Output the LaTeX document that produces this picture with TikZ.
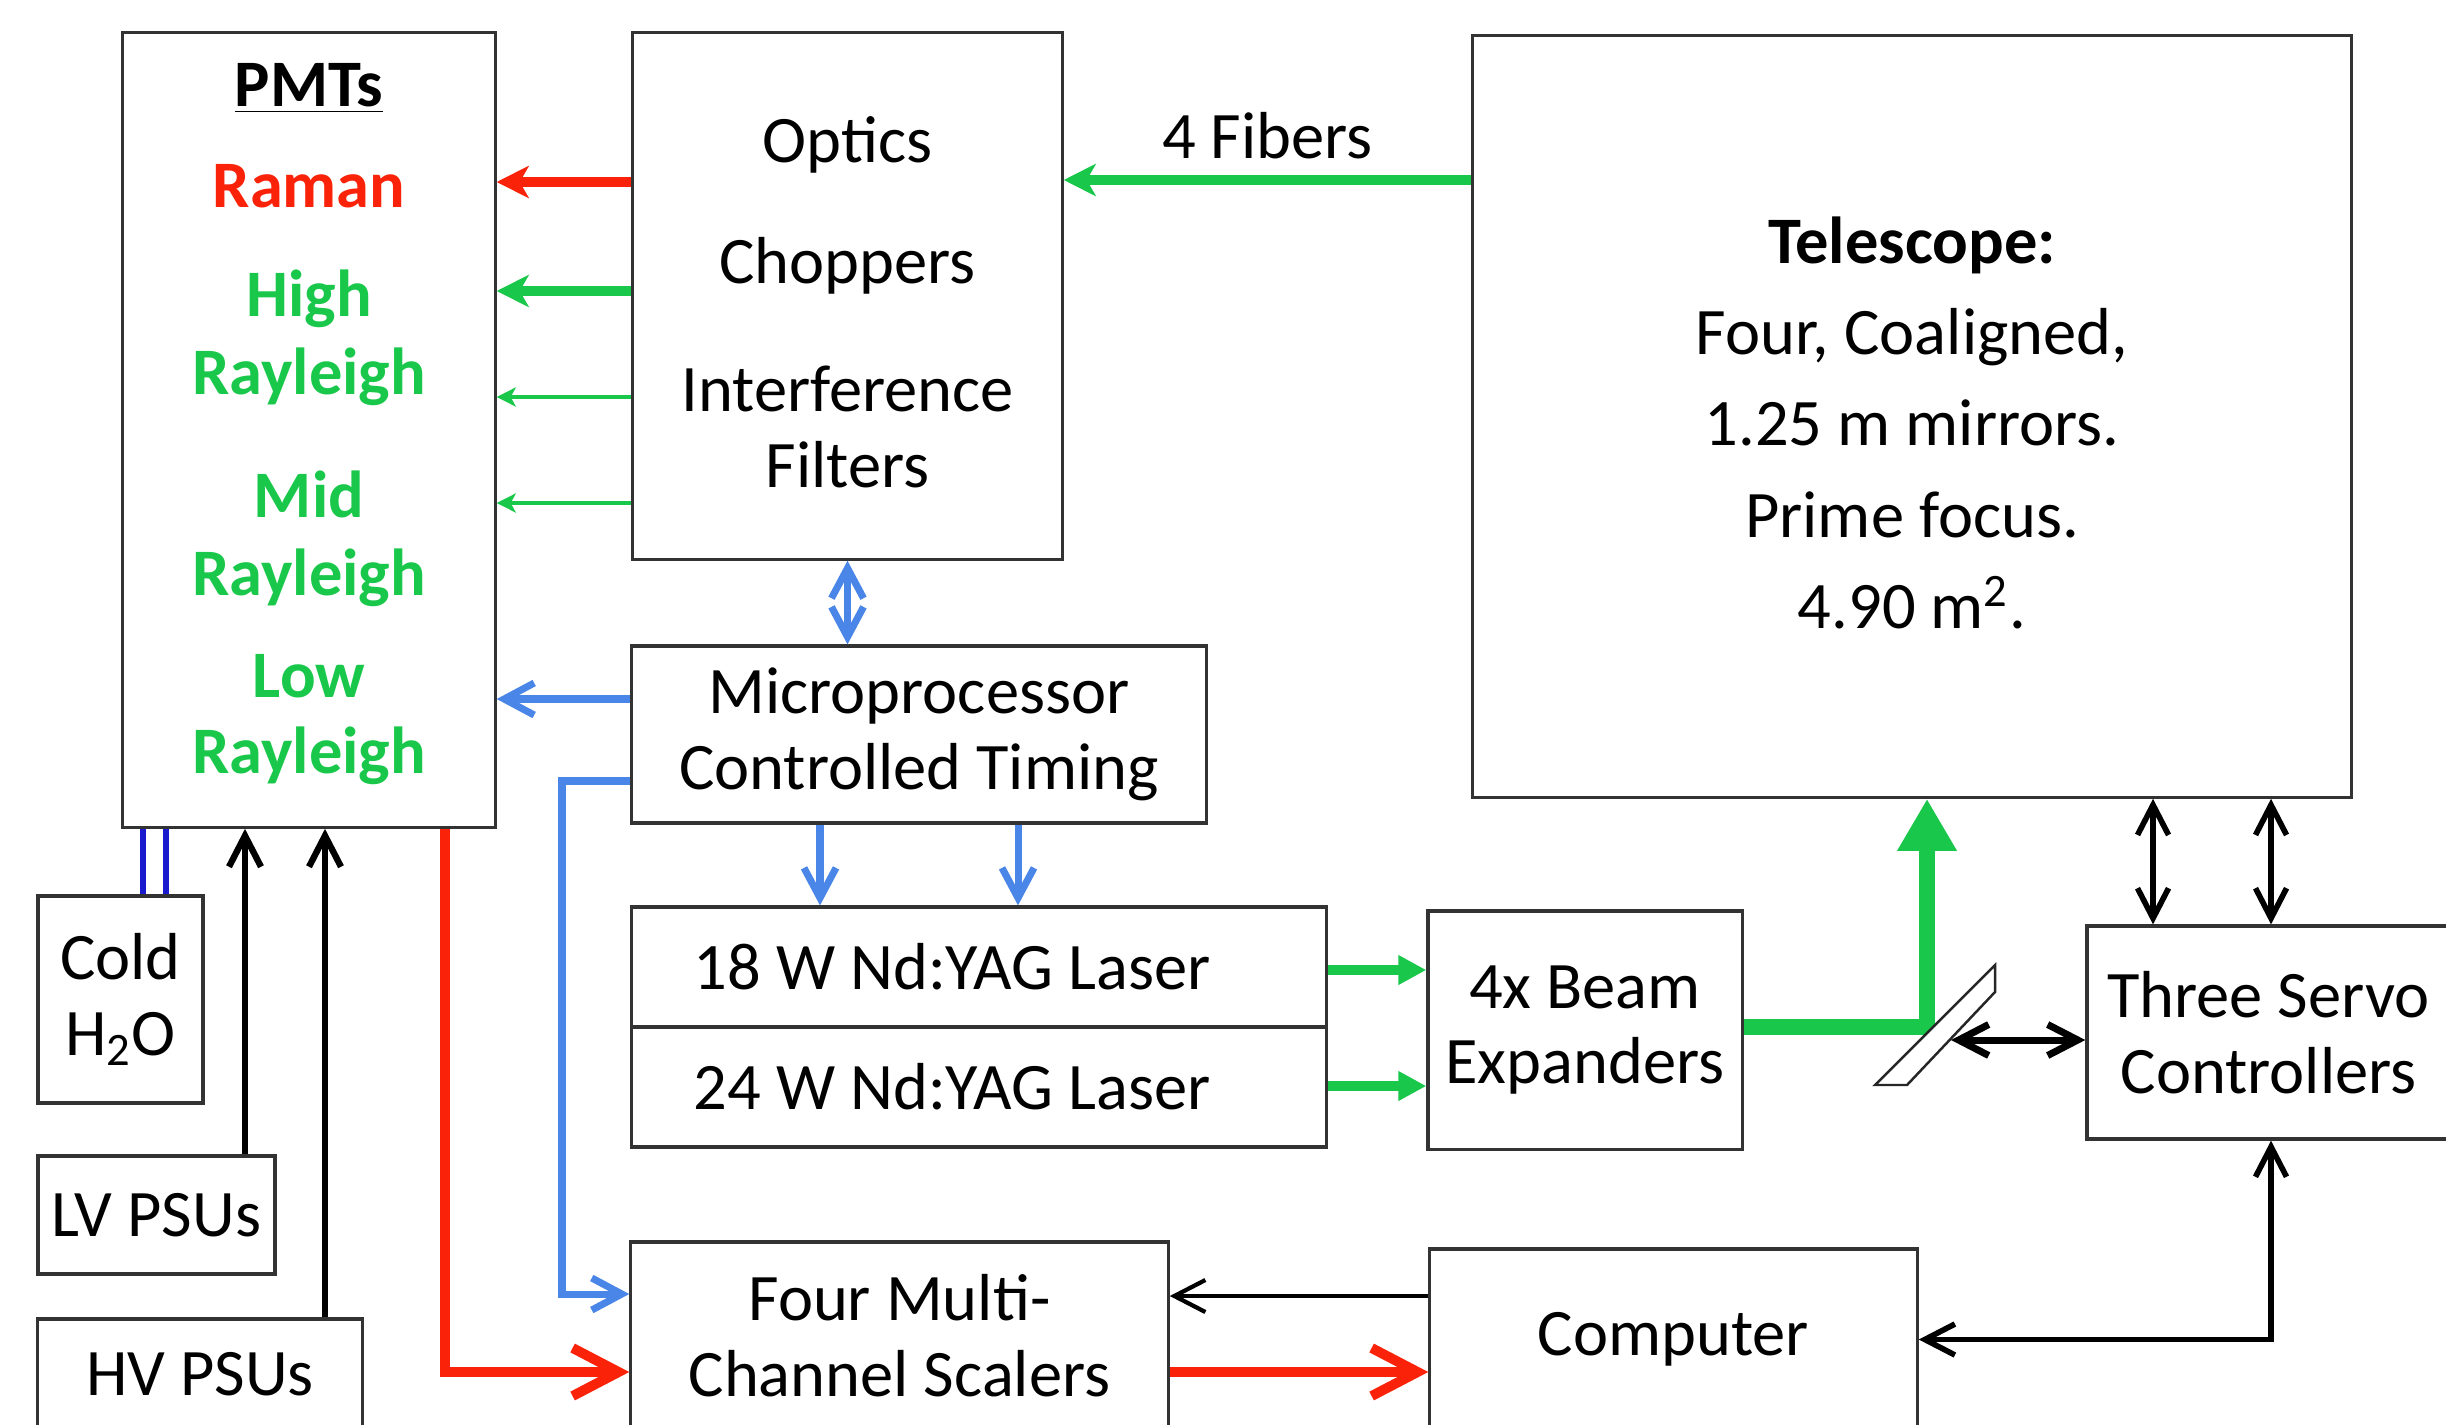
\documentclass[tikz,border=0pt]{standalone}
\usepackage{fontspec}
\setmainfont{Carlito}
\usepackage{xcolor}
\usetikzlibrary{arrows.meta}
\definecolor{laserred}{RGB}{250,35,10}
\definecolor{beamgreen}{RGB}{25,200,75}
\definecolor{ctrlblue}{RGB}{74,134,232}
\definecolor{waterblue}{RGB}{25,25,205}
\tikzset{
  blk/.style={draw=black!80, line width=0.9pt, inner sep=0pt, align=center,
              font=\fontsize{18.9}{21.6}\selectfont},
  lbl/.style={inner sep=0pt, text=black, font=\fontsize{18.9}{21.6}\selectfont},
  optfat/.style={line width=2.8pt, -{Stealth[length=3.2mm,width=3.2mm,inset=0.9mm]}},
  optthin/.style={line width=1.4pt, -{Stealth[length=1.9mm,width=1.9mm,inset=0.5mm]}},
  ctl/.style={ctrlblue, line width=2pt, -{Straight Barb[length=3mm,width=3.2mm]}},
  ctltwo/.style={ctrlblue, line width=2pt,
                 {Straight Barb[length=3mm,width=3.2mm]}-{Straight Barb[length=3mm,width=3.2mm]}},
  pwr/.style={black, line width=1.8pt, -{Straight Barb[length=3.1mm,width=3.2mm]}},
  pwrtwo/.style={black, line width=1.6pt,
                 {Straight Barb[length=3mm,width=3.1mm]}-{Straight Barb[length=3mm,width=3.1mm]}},
  cnt/.style={laserred, line width=2.8pt, -{Straight Barb[length=4.6mm,width=4.8mm]}},
  las/.style={beamgreen, line width=2.8pt, -{Triangle[length=2.8mm,width=2.8mm]}},
  beam/.style={beamgreen, line width=4.6pt, -{Triangle[length=5.2mm,width=5.6mm]}},
  water/.style={waterblue, line width=1.5pt}
}
\begin{document}
\begin{tikzpicture}[x=0.01cm, y=-0.01cm]
\useasboundingbox (0,0) rectangle (2446,1424);
\clip (0,0) rectangle (2446,1424);
% boxes
\node[blk, minimum width=3.72cm, minimum height=7.94cm,
      font=\fontsize{18.9}{21.6}\selectfont\bfseries] (pmt) at (309,430)
  {\underline{PMTs}\\[7.2pt]
   \textcolor{laserred}{Raman}\\[9.5pt]
   \textcolor{beamgreen}{High}\\[0.6pt]
   \textcolor{beamgreen}{Rayleigh}\\[13.4pt]
   \textcolor{beamgreen}{Mid}\\[0.6pt]
   \textcolor{beamgreen}{Rayleigh}\\[7.4pt]
   \textcolor{beamgreen}{Low}\\
   \textcolor{beamgreen}{Rayleigh}\\[-15pt]\mbox{}};
\node[blk, minimum width=4.29cm, minimum height=5.26cm] (opt) at (847.5,296)
  {\mbox{}\\[-5pt] Optics\\[13pt] Choppers\\[14.8pt] Interference\\ Filters};
\node[blk, minimum width=8.78cm, minimum height=7.61cm] (tel) at (1912,416.5)
  {\mbox{}\\[-4.7pt]\textbf{Telescope:}\\[4.3pt] Four, Coaligned,\\[4.3pt] 1.25 m mirrors.\\[4.3pt]
   Prime focus.\\[4.3pt] 4.90 m\textsuperscript{2}.};
\node[blk, minimum width=5.74cm, minimum height=1.77cm] (mcu) at (919,734.5)
  {Microprocessor\\ Controlled Timing};
\node[blk, minimum width=6.94cm, minimum height=1.2cm] (las1) at (979,967)
  {18 W Nd:YAG Laser\hspace*{0.54cm}};
\node[blk, minimum width=6.94cm, minimum height=1.2cm] (las2) at (979,1087)
  {24 W Nd:YAG Laser\hspace*{0.54cm}};
\node[blk, minimum width=3.14cm, minimum height=2.38cm] (bex) at (1585,1030)
  {4x Beam\\ Expanders};
\node[blk, minimum width=3.63cm, minimum height=2.13cm] (servo) at (2268.5,1032.5)
  {Three Servo\\ Controllers};
\node[blk, minimum width=4.87cm, minimum height=1.81cm] (comp) at (1673.5,1339.5)
  {Computer};
\node[blk, minimum width=5.37cm, minimum height=1.88cm] (msc) at (899.5,1336)
  {Four Multi-\\ Channel Scalers};
\node[blk, minimum width=1.65cm, minimum height=2.07cm] (cold) at (120.5,999.5)
  {Cold\\ H\textsubscript{2}O};
\node[blk, minimum width=2.37cm, minimum height=1.18cm] (lv) at (156.5,1215)
  {LV PSUs};
\node[blk, minimum width=3.24cm, minimum height=1.11cm] (hv) at (200,1374.5)
  {HV PSUs};
% light into the PMTs
\draw[optfat, laserred] (opt.west |- 0,182) -- (pmt.east |- 0,182);
\draw[optfat, beamgreen] (opt.west |- 0,291) -- (pmt.east |- 0,291);
\draw[optthin, beamgreen] (opt.west |- 0,397) -- (pmt.east |- 0,397);
\draw[optthin, beamgreen] (opt.west |- 0,503) -- (pmt.east |- 0,503);
\draw[optfat, beamgreen] (tel.west |- 0,180) --
  node[lbl, above=0.16cm] (fib) {4 Fibers} (opt.east |- 0,180);
% timing
\draw[ctltwo] (opt.south) -- (opt.south |- mcu.north);
\draw[ctl] (mcu.west |- 0,699) -- (pmt.east |- 0,699);
\draw[ctl] (mcu.west |- 0,781) -- (562,781) |- (msc.west |- 0,1294);
\draw[ctl] (mcu.south -| 820,0) -- (las1.north -| 820,0);
\draw[ctl] (mcu.south -| 1018,0) -- (las1.north -| 1018,0);
% lasers and beam
\draw[las] (las1.east |- 0,970) -- (bex.west |- 0,970);
\draw[las] (las2.east |- 0,1086) -- (bex.west |- 0,1086);
\draw[beam] (bex.east |- 0,1027) -- (1927,1027) -- (tel.south -| 1927,0);
\draw[black!85, line width=0.7pt, fill=white]
  (1875,1085) -- (1907,1085) -- (1995,992) -- (1995,965) -- cycle;
\coordinate (mir) at (1951,1040);
% servo and computer
\draw[pwrtwo] (tel.south -| 2153,0) -- (servo.north -| 2153,0);
\draw[pwrtwo] (tel.south -| 2271,0) -- (servo.north -| 2271,0);
\draw[pwrtwo, line width=2pt] (mir) -- (servo.west |- mir);
\draw[pwrtwo] (servo.south -| 2271,0) |- (comp.east);
\draw[pwr, line width=1.2pt] (comp.west |- 0,1296) -- (msc.east |- 0,1296);
\draw[cnt] (msc.east |- 0,1372) -- (comp.west |- 0,1372);
\draw[cnt] (pmt.south -| 445,0) |- (msc.west |- 0,1372);
% supplies
\draw[pwr] (lv.north -| 245,0) -- (pmt.south -| 245,0);
\draw[pwr] (hv.north -| 325,0) -- (pmt.south -| 325,0);
\draw[water] (cold.north -| 143,0) -- (pmt.south -| 143,0);
\draw[water] (cold.north -| 166,0) -- (pmt.south -| 166,0);
\end{tikzpicture}
\end{document}
